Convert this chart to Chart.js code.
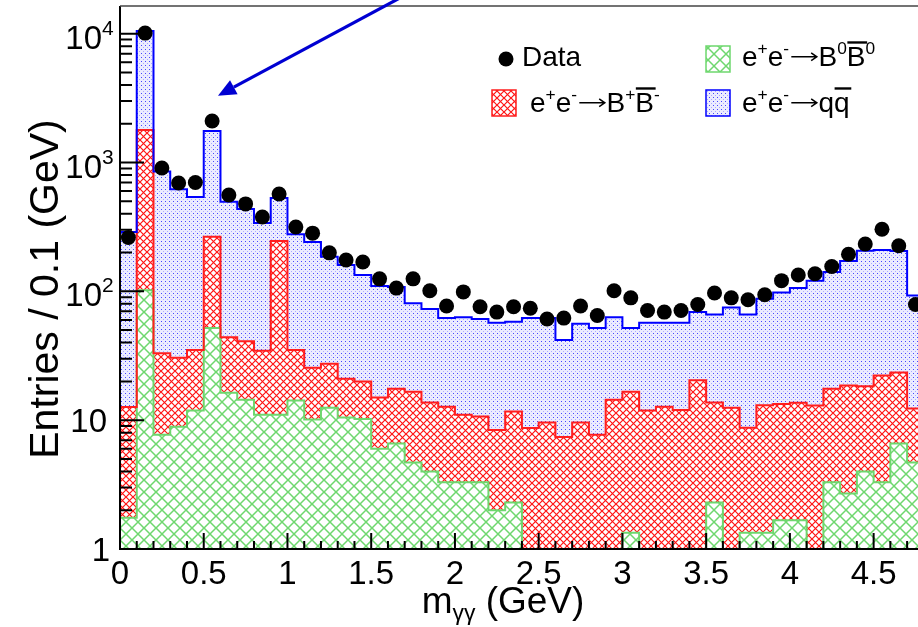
<!DOCTYPE html>
<html><head><meta charset="utf-8">
<script src="https://cdn.jsdelivr.net/npm/chart.js@4/dist/chart.umd.min.js"></script>
<style>html,body{margin:0;padding:0;background:#fff;}#wrap{width:918px;height:627px;}</style>
</head><body><div id="wrap"><canvas id="c" width="918" height="627"></canvas></div>
<script>
// ---- binning (0.1 GeV bins starting at 0) ----
const BIN_WIDTH = 0.1;
// ---- data: entries per bin ----
const dataCounts = [262,10100,906,693,700,2100,560,477,378,569,316,283,199,175,169,125,106,125,101,77,99,76,69,76,74,61,62,77,65,101,89,71,69,71,79,97,89,86,94,121,134,137,156,194,233,303,226,79];
// ---- MC components (stacked) ----
const bbNeutral = [1.75,102,7.7,8.9,11.9,52,16.3,14.4,11,11,14.2,10.1,12.5,10.5,10.2,6.0,6.6,4.7,4.0,3.3,3.3,3.3,2.0,2.3,0,0,0,0,0,0,1.34,0,0,0,0,2.3,0,1.34,1.34,1.67,1.67,0,3.3,2.7,4.0,3.3,6.6,4.7];
const bbCharged = [10.9,1684,25.3,21.6,23.1,213,27.7,26.6,23.6,235,20.8,15.4,14.9,10.5,9.8,9.0,10.9,11.9,9.7,9.4,7.7,7.4,6.4,9.4,8.7,9.6,7.4,9.6,7.7,14.4,15.3,11.9,12.7,12,20.4,11.4,12.5,7.4,11.7,11.7,12.0,13,14.2,15.9,14.3,18.9,16.8,7.6];
const qqbar = [276,8714,817,590,505,1495,451,395,305,284,242,216,158,139,114,95,90.5,64.4,59.3,49.3,52,50.3,48.6,46.3,53.3,52.4,34.6,46.4,44.3,48.6,35.4,45.1,44.3,45,48.6,52.3,62.5,57.3,74.5,84.6,92.3,108,123.5,153.4,188.7,186.8,182.6,80.7];
// ---- axes ----
const X_MIN = 0, X_MAX = 4.765;
const Y_MIN = 1, Y_MAX = 16400;
const xMajorTicks = [0,0.5,1,1.5,2,2.5,3,3.5,4,4.5];
const xTickLabels = ['0','0.5','1','1.5','2','2.5','3','3.5','4','4.5'];
const X_MINOR_STEP = 0.1;
const yMajorTicks = [1,10,100,1000,10000];
const yTickLabels = [['1',''],['10',''],['10','2'],['10','3'],['10','4']];
const xTitle = [['m',''],['γγ','_'],[' (GeV)','']];
const yTitle = 'Entries / 0.1 (GeV)';
const legendItems = [
  {kind:'dot', label:[['Data','']]},
  {kind:'green', label:[['e',''],['+','^'],['e',''],['-','^'],['','>'],['B',''],['0','^'],['B','o'],['0','^']]},
  {kind:'red', label:[['e',''],['+','^'],['e',''],['-','^'],['','>'],['B',''],['+','^'],['B','o'],['-','^']]},
  {kind:'blue', label:[['e',''],['+','^'],['e',''],['-','^'],['','>'],['q',''],['q','o']]}
];
// arrow annotation (data coordinates): tail -> tip
const arrowTail = {x:1.67, y:18900};
const arrowTip = {x:0.585, y:3300};

const FONT = '"Liberation Sans", Arial, Helvetica, sans-serif';
const canvas = document.getElementById('c');
const ctx0 = canvas.getContext('2d');

function makePattern(size, fn){
  const c = document.createElement('canvas'); c.width = size; c.height = size;
  const g = c.getContext('2d'); fn(g, size);
  return ctx0.createPattern(c, 'repeat');
}
function crossHatch(color, lw){
  return (g, s) => {
    g.strokeStyle = color; g.lineWidth = lw; g.beginPath();
    g.moveTo(-1,-1); g.lineTo(s+1,s+1);
    g.moveTo(s+1,-1); g.lineTo(-1,s+1);
    g.stroke();
  };
}
const redPat = makePattern(7, crossHatch('rgb(255,20,20)', 1.2));
const greenPat = makePattern(12, crossHatch('rgb(110,215,110)', 1.5));
const bluePat = makePattern(4, (g) => {
  g.fillStyle = 'rgba(220,220,255,0.55)'; g.fillRect(0,0,4,4);
  g.fillStyle = 'rgb(70,70,255)'; g.fillRect(1,1,1,1);
  g.fillStyle = 'rgb(170,170,255)'; g.fillRect(3,3,1,1);
});

const n = dataCounts.length;
const cumG = bbNeutral.slice();
const cumR = bbNeutral.map((v,i) => v + bbCharged[i]);
const cumT = cumR.map((v,i) => v + qqbar[i]);
function stepPoints(vals){
  const pts = vals.map((v,i) => ({x: i*BIN_WIDTH, y: v > Y_MIN ? v : Y_MIN}));
  pts.push({x: n*BIN_WIDTH, y: pts[n-1].y});
  return pts;
}
const dataPts = dataCounts.map((v,i) => ({x: (i+0.5)*BIN_WIDTH, y: v}));

function richParts(ctx, parts, size){
  let w = 0; const out = [];
  for (const [t, m] of parts){
    const s = (m === '^' || m === '_') ? size*0.62 : size;
    ctx.font = s + 'px ' + FONT;
    const tw = m === '>' ? size*1.05 : ctx.measureText(t).width;
    out.push({t, m, s, x: w, w: tw});
    w += tw;
  }
  return {out, w};
}
function drawRich(ctx, x, y, parts, size, align){
  const r = richParts(ctx, parts, size);
  let x0 = x;
  if (align === 'center') x0 = x - r.w/2;
  else if (align === 'right') x0 = x - r.w;
  ctx.textAlign = 'left'; ctx.textBaseline = 'alphabetic';
  for (const p of r.out){
    ctx.font = p.s + 'px ' + FONT;
    if (p.m === '>'){
      ctx.save(); ctx.strokeStyle = ctx.fillStyle; ctx.lineWidth = size*0.055;
      const ay = y - size*0.33, ax0 = x0 + p.x + size*0.08, ax1 = x0 + p.x + p.w - size*0.06;
      ctx.beginPath(); ctx.moveTo(ax0, ay); ctx.lineTo(ax1, ay);
      ctx.moveTo(ax1 - size*0.2, ay - size*0.14); ctx.lineTo(ax1, ay); ctx.lineTo(ax1 - size*0.2, ay + size*0.14);
      ctx.stroke(); ctx.restore();
      continue;
    }
    let yy = y;
    if (p.m === '^') yy = y - size*0.42;
    if (p.m === '_') yy = y + size*0.2;
    ctx.fillText(p.t, x0 + p.x, yy);
    if (p.m === 'o'){
      ctx.save(); ctx.lineWidth = size*0.085; ctx.strokeStyle = ctx.fillStyle;
      ctx.beginPath(); const oy = y - size*0.84;
      ctx.moveTo(x0 + p.x + size*0.02, oy); ctx.lineTo(x0 + p.x + p.w + size*0.06, oy); ctx.stroke();
      ctx.restore();
    }
  }
  return r.w;
}

const decor = {
  id: 'decor',
  afterDatasetsDraw(chart){
    const {ctx, chartArea: a, scales: {x, y}} = chart;
    ctx.save();
    ctx.strokeStyle = '#000'; ctx.lineWidth = 2;
    ctx.beginPath();
    for (let d = 0; d < 5; d++){
      for (let m = 1; m < 10; m++){
        const v = m*Math.pow(10, d);
        if (v > Y_MAX) break;
        const py = y.getPixelForValue(v);
        const len = m === 1 ? 24 : 12;
        ctx.moveTo(a.left, py); ctx.lineTo(a.left + len, py);
      }
    }
    for (let k = 0; k*X_MINOR_STEP <= X_MAX + 1e-9; k++){
      const v = k*X_MINOR_STEP;
      const px = x.getPixelForValue(v);
      const len = (k % 5 === 0) ? 16 : 8;
      ctx.moveTo(px, a.bottom); ctx.lineTo(px, a.bottom - len);
    }
    ctx.stroke();
    ctx.lineWidth = 2; ctx.strokeStyle = '#000';
    ctx.beginPath();
    ctx.moveTo(a.left, a.top); ctx.lineTo(a.left, a.bottom); ctx.lineTo(a.right, a.bottom);
    ctx.stroke();
    ctx.lineWidth = 1.5; ctx.strokeStyle = '#444';
    ctx.beginPath(); ctx.moveTo(a.left, a.top); ctx.lineTo(a.right, a.top); ctx.stroke();
    ctx.restore();
  },
  afterDraw(chart){
    const {ctx, chartArea: a, scales: {x, y}} = chart;
    ctx.save();
    ctx.fillStyle = '#000';
    yMajorTicks.forEach((v, i) => {
      const py = y.getPixelForValue(v);
      const [b, e] = yTickLabels[i];
      ctx.font = '33px ' + FONT; ctx.textAlign = 'right'; ctx.textBaseline = 'alphabetic';
      if (e){
        ctx.fillText(b, 102, py + 15);
        ctx.font = '21px ' + FONT; ctx.textAlign = 'left';
        ctx.fillText(e, 102, py + 1);
      } else {
        ctx.fillText(b, b === '1' ? 110 : 107, py + 12);
      }
    });
    xMajorTicks.forEach((v, i) => {
      const px = x.getPixelForValue(v);
      drawRich(ctx, px, 584, [[xTickLabels[i], '']], 33, 'center');
    });
    drawRich(ctx, 503, 613, xTitle, 37, 'center');
    ctx.save();
    ctx.translate(58, 289); ctx.rotate(-Math.PI/2);
    ctx.font = '41px ' + FONT; ctx.textAlign = 'center'; ctx.textBaseline = 'alphabetic';
    ctx.fillText(yTitle, 0, 0);
    ctx.restore();
    const pos = [{x:506, y:59, tx:522, ty:66}, {x:718, y:59, tx:742, ty:66}, {x:504, y:103, tx:530, ty:112}, {x:718, y:103, tx:742, ty:112}];
    legendItems.forEach((it, i) => {
      const p = pos[i];
      if (it.kind === 'dot'){
        ctx.fillStyle = '#000'; ctx.beginPath(); ctx.arc(p.x, p.y, 7.5, 0, Math.PI*2); ctx.fill();
      } else {
        const pat = it.kind === 'green' ? greenPat : it.kind === 'red' ? redPat : bluePat;
        const col = it.kind === 'green' ? 'rgb(110,215,110)' : it.kind === 'red' ? 'rgb(255,30,30)' : 'rgb(0,0,255)';
        ctx.fillStyle = '#fff'; ctx.fillRect(p.x-12, p.y-13, 24, 26);
        ctx.fillStyle = pat; ctx.fillRect(p.x-12, p.y-13, 24, 26);
        ctx.strokeStyle = col; ctx.lineWidth = 1.5; ctx.strokeRect(p.x-12, p.y-13, 24, 26);
      }
      ctx.fillStyle = '#000';
      drawRich(ctx, p.tx, p.ty, it.label, 28, 'left');
    });
    const tx = x.getPixelForValue(arrowTail.x), ty = y.getPixelForValue(arrowTail.y);
    const hx = x.getPixelForValue(arrowTip.x), hy = y.getPixelForValue(arrowTip.y);
    const ang = Math.atan2(hy - ty, hx - tx);
    const L = 18, W = 8;
    const bx = hx - L*Math.cos(ang), by = hy - L*Math.sin(ang);
    ctx.strokeStyle = 'rgb(0,0,210)'; ctx.fillStyle = 'rgb(0,0,210)'; ctx.lineWidth = 3.2;
    ctx.beginPath(); ctx.moveTo(tx, ty); ctx.lineTo(bx, by); ctx.stroke();
    ctx.beginPath(); ctx.moveTo(hx, hy);
    ctx.lineTo(bx + W*Math.sin(ang), by - W*Math.cos(ang));
    ctx.lineTo(bx - W*Math.sin(ang), by + W*Math.cos(ang));
    ctx.closePath(); ctx.fill();
    ctx.restore();
  }
};

const lineCommon = {type:'line', pointRadius:0, stepped:true, tension:0, borderWidth:2, spanGaps:true};
new Chart(canvas, {
  type: 'line',
  data: {
    datasets: [
      {type:'scatter', label:'Data', data:dataPts, showLine:false, pointRadius:7.5, pointHoverRadius:7.5,
       pointBackgroundColor:'#000', pointBorderColor:'#000', pointBorderWidth:0},
      Object.assign({label:'qqbar', data:stepPoints(cumT), borderColor:'rgb(0,0,255)', backgroundColor:bluePat, fill:2}, lineCommon),
      Object.assign({label:'B+B-', data:stepPoints(cumR), borderColor:'rgb(255,30,30)', backgroundColor:redPat, fill:3}, lineCommon),
      Object.assign({label:'B0B0', data:stepPoints(cumG), borderColor:'rgb(110,215,110)', backgroundColor:greenPat, fill:'start'}, lineCommon)
    ]
  },
  options: {
    responsive:false, animation:false, devicePixelRatio:1,
    layout:{autoPadding:false, padding:{left:120, top:6, right:0, bottom:78}},
    scales:{
      x:{type:'linear', min:X_MIN, max:X_MAX, display:false},
      y:{type:'logarithmic', min:Y_MIN, max:Y_MAX, display:false}
    },
    plugins:{legend:{display:false}, tooltip:{enabled:false}, filler:{drawTime:'beforeDatasetsDraw'}},
    events:[]
  },
  plugins:[decor]
});
</script></body></html>
